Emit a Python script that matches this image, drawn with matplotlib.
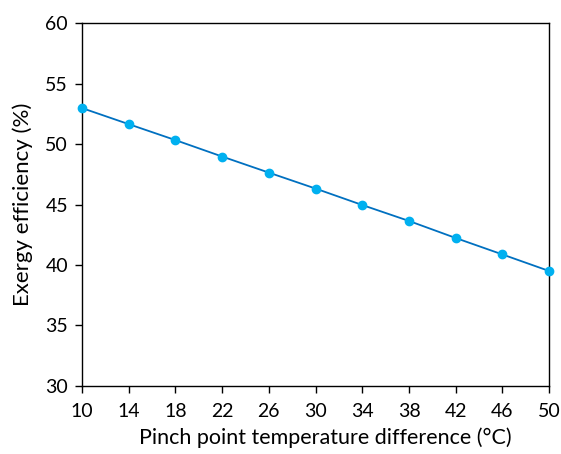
import matplotlib
matplotlib.use('Agg')
import matplotlib.pyplot as plt
import numpy as np

# pinch point temperature difference (°C) vs exergy efficiency (%)
pinch = [10, 14, 18, 22, 26, 30, 34, 38, 42, 46, 50]
exergy = [52.98, 51.65, 50.33, 48.97, 47.64, 46.32, 44.96, 43.64, 42.23, 40.87, 39.5]

plt.rcParams['font.family'] = ['Lato', 'DejaVu Sans']

fig = plt.figure(figsize=(5.61, 4.54), dpi=100)
ax = fig.add_axes([0.146, 0.150, 0.833, 0.799])

ax.plot(pinch, exergy, color='#0070C0', linewidth=1.3, marker='o',
        markersize=6, markerfacecolor='#00B0F0', markeredgecolor='#00B0F0',
        clip_on=False, zorder=3)

ax.set_xlim(10, 50)
ax.set_ylim(30, 60)
ax.set_xticks(np.arange(10, 51, 4))
ax.set_yticks(np.arange(30, 61, 5))
ax.tick_params(direction='out', length=5, width=1, labelsize=14)
ax.tick_params(axis='x', pad=7)
ax.tick_params(axis='y', pad=5)
for s in ax.spines.values():
    s.set_linewidth(1)
    s.set_color('black')

ax.set_xlabel('Pinch point temperature difference (°C)', fontsize=15.5, labelpad=7)
ax.xaxis.set_label_coords(0.52, -0.115)
ax.set_ylabel('Exergy efficiency (%)', fontsize=16, labelpad=9)

plt.savefig('out.png', dpi=100)
